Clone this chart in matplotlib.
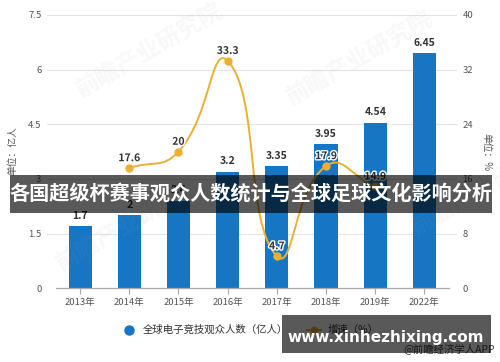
import numpy as np
import matplotlib
matplotlib.use("Agg")
import matplotlib.pyplot as plt
from matplotlib.path import Path
from matplotlib.patches import PathPatch, Rectangle
from matplotlib.lines import Line2D
import matplotlib.patheffects as pe

plt.rcParams['font.family'] = ['Noto Sans CJK SC', 'DejaVu Sans']

# ---- data ----
years = ["2013年", "2014年", "2015年", "2016年", "2017年", "2018年", "2019年", "2022年"]
audience = [1.7, 2.0, 2.4, 3.2, 3.35, 3.95, 4.54, 6.45]
audience_labels = ["1.7", "2", "2.4", "3.2", "3.35", "3.95", "4.54", "6.45"]
growth_years_idx = [1, 2, 3, 4, 5, 6]
growth = [17.6, 20.0, 33.3, 4.7, 17.9, 14.9]
growth_labels = ["17.6", "20", "33.3", "4.7", "17.9", "14.9"]
left_ticks = [0, 1.5, 3, 4.5, 6, 7.5]
left_tick_labels = ["0", "1.5", "3", "4.5", "6", "7.5"]
right_ticks = [0, 8, 16, 24, 32, 40]
title = "各国超级杯赛事观众人数统计与全球足球文化影响分析"
legend_bar = "全球电子竞技观众人数（亿人）"
legend_line = "增速（%）"

BAR = "#1776C4"
LINE = "#EBB032"
TXT = "#333333"
TICK = "#555555"

fig = plt.figure(figsize=(5.0, 3.62), dpi=100)
ax = fig.add_axes([0.094, 0.2036, 0.82, 0.755])
x = np.arange(len(years))
ax.set_xlim(-0.673, 7.663)
ax.set_ylim(0, 7.5)
for s in ax.spines.values():
    s.set_visible(False)
ax.set_yticks(left_ticks)
ax.set_yticklabels(left_tick_labels)
ax.set_xticks(x)
ax.set_xticklabels(years)
ax.tick_params(axis='y', length=0, pad=4, labelsize=6.8, labelcolor=TICK)
ax.tick_params(axis='x', length=4, width=0.8, color='#aaaaaa', pad=3,
               labelsize=6.8, labelcolor=TICK)
for t in left_ticks[1:]:
    ax.axhline(t, color='#e3e3e3', lw=0.8, zorder=0)
ax.plot([-0.5, 7.5], [0, 0], color='#aaaaaa', lw=0.9, zorder=3, clip_on=False)

ax.bar(x, audience, width=0.47, color=BAR, zorder=2)
for xi, v, lab in zip(x, audience, audience_labels):
    ax.annotate(lab, (xi, v), xytext=(0, 4), textcoords='offset points',
                ha='center', va='bottom', fontsize=7.5, fontweight='bold', color=TXT, zorder=4)

ax2 = ax.twinx()
ax2.set_ylim(0, 40)
for s in ax2.spines.values():
    s.set_visible(False)
ax2.set_yticks(right_ticks)
ax2.set_yticklabels([str(t) for t in right_ticks])
ax2.tick_params(axis='y', length=0, pad=4, labelsize=6.8, labelcolor=TICK)

# smooth line (echarts-like bezier) computed in display space
gx = np.array(growth_years_idx, dtype=float)
gy = np.array(growth, dtype=float)
pts = ax2.transData.transform(np.column_stack([gx, gy]))
sm = 0.5
n = len(pts)
cin, cout = [], []
for i in range(n):
    p = pts[i]
    prev = pts[i - 1] if i > 0 else p
    nxt = pts[i + 1] if i < n - 1 else p
    v = (nxt - prev) * sm
    d0 = np.hypot(*(p - prev))
    d1 = np.hypot(*(nxt - p))
    tot = d0 + d1
    cin.append(p - v * (d0 / tot))
    cout.append(p + v * (d1 / tot))
verts = [pts[0]]
codes = [Path.MOVETO]
for i in range(n - 1):
    verts += [cout[i], cin[i + 1], pts[i + 1]]
    codes += [Path.CURVE4] * 3
inv = ax2.transData.inverted()
verts_data = inv.transform(np.array(verts))
ax2.add_patch(PathPatch(Path(verts_data, codes), fill=False, edgecolor=LINE, lw=1.4, zorder=3))
ax2.plot(gx, gy, 'o', color=LINE, ms=5, zorder=4)
for xi, v, lab in zip(gx, gy, growth_labels):
    ax2.annotate(lab, (xi, v), xytext=(0, 3.5), textcoords='offset points',
                 ha='center', va='bottom', fontsize=7.5, fontweight='bold', color=TXT, zorder=5,
                 path_effects=[pe.withStroke(linewidth=2, foreground='white')])

# axis unit labels
fig.text(0.024, 0.585, "单位：亿人", rotation=90, ha='center', va='center', fontsize=7, color=TICK)
fig.text(0.972, 0.58, "单位：%", rotation=-90, ha='center', va='center', fontsize=7, color=TICK)

# legend
handles = [Line2D([], [], marker='o', ls='none', color=BAR, ms=6.5),
           Line2D([], [], marker='o', ls='-', color=LINE, ms=4.5, lw=1.4)]
fig.legend(handles, [legend_bar, legend_line], loc='center', bbox_to_anchor=(0.5, 0.088),
           ncol=2, frameon=False, fontsize=7.5, handlelength=1.4, handletextpad=0.6,
           columnspacing=1.8, labelcolor=TXT)

# faint watermarks
for (wx, wy) in [(0.30, 0.86), (0.72, 0.84), (0.26, 0.38), (0.97, 0.48)]:
    fig.text(wx, wy, "前瞻产业研究院", rotation=30, ha='center', va='center',
             fontsize=17, fontweight='bold', color='#999999', alpha=0.07, zorder=6)

fig.text(0.99, 0.036, "@前瞻经济学人APP", ha='right', va='center', fontsize=7.5, color='#444444')

# banner overlay
fig.patches.append(Rectangle((0.02, 0.4116), 0.964, 0.105, transform=fig.transFigure,
                             facecolor='black', alpha=0.65, edgecolor='none', zorder=10))
fig.text(0.502, 0.464, title, ha='center', va='center', fontsize=14.5, fontweight='bold',
         color='white', zorder=11)

# bottom watermark box
fig.patches.append(Rectangle((0.564, 0.0249), 0.418, 0.105, transform=fig.transFigure,
                             facecolor='black', alpha=0.65, edgecolor='none', zorder=10))
fig.text(0.771, 0.069, "www.xinhezhixing.com", ha='center', va='center', fontsize=11,
         fontweight='bold', color='white', family='DejaVu Sans', zorder=11)

fig.savefig("out.png", dpi=100)
